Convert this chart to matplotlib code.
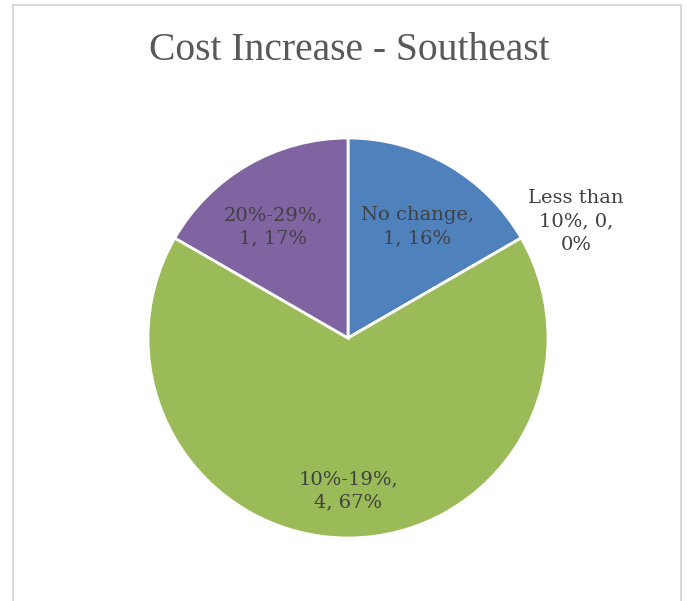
import matplotlib.pyplot as plt
import numpy as np

categories = ["No change", "Less than\n10%", "10%-19%", "20%-29%"]
counts = [1, 0, 4, 1]
percent_labels = ["16%", "0%", "67%", "17%"]
colors = ["#4F81BD", "#4F81BD", "#9BBB59", "#8064A2"]

# radial position of each data label (fraction of radius) and small angle tweaks
label_radius = [0.655, 1.28, 0.765, 0.67]
label_angle_shift = [-2.0, -3.0, 0.0, 4.0]

W, H = 687, 601
fig = plt.figure(figsize=(W / 100, H / 100), dpi=100)

# light chart-area frame
frame = fig.add_axes([0, 0, 1, 1])
frame.set_xlim(0, W)
frame.set_ylim(H, 0)
frame.axis("off")
frame.plot([13, 13, 681, 681], [H, 5, 5, H], color="#d9d9d9", linewidth=1.5)

fig.text(349 / W, 1 - 51 / H, "Cost Increase - Southeast", ha="center", va="center",
         fontsize=28.5, color="#595959", family="Liberation Serif")

cx, cy, r = 348, 338, 200
ax = fig.add_axes([(cx - r) / W, (H - cy - r) / H, 2 * r / W, 2 * r / H])
wedges, _ = ax.pie(counts, colors=colors, startangle=90, counterclock=False,
                   radius=1.0, wedgeprops=dict(edgecolor="white", linewidth=2))
ax.set_xlim(-1, 1)
ax.set_ylim(-1, 1)

for i, w in enumerate(wedges):
    theta = np.deg2rad((w.theta1 + w.theta2) / 2 + label_angle_shift[i])
    x = label_radius[i] * np.cos(theta)
    y = label_radius[i] * np.sin(theta)
    if counts[i] == 0:
        text = "Less than\n10%, " + str(counts[i]) + ",\n" + percent_labels[i]
    else:
        text = categories[i] + ",\n" + str(counts[i]) + ", " + percent_labels[i]
    ax.text(x, y, text, ha="center", va="center", fontsize=14, color="#404040",
            family="DejaVu Serif", linespacing=1.4, clip_on=False)

fig.savefig("out.png", dpi=100)
